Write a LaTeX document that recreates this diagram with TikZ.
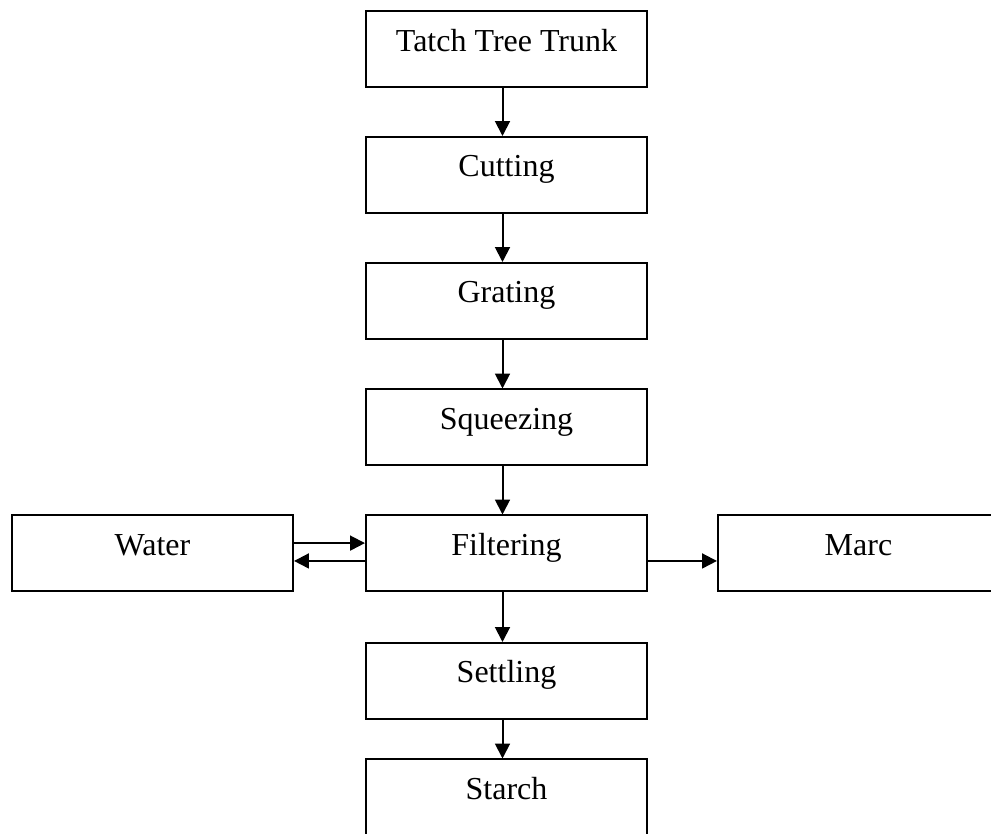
\documentclass[tikz,border=0pt]{standalone}
\usepackage{fontspec}
\setmainfont{Liberation Serif}
\usetikzlibrary{arrows.meta}

\tikzset{
  stage/.style={draw, line width=0.75pt, minimum width=105.4pt, minimum height=28.5pt,
    inner sep=0pt, text height=8.4pt, text depth=6.9pt, font=\fontsize{12}{14}\selectfont},
  flow/.style={-{Triangle[length=5.6pt,width=5.6pt]}, line width=0.75pt},
}

\begin{document}
\begin{tikzpicture}[x=0.375pt, y=-0.375pt]

\useasboundingbox (0,0) rectangle (991,834);
\clip (0,0) rectangle (991,834);

\def\xm{506.5}; % main column
\def\xl{152.5}; % water
\def\xr{858.5}; % marc

\node[stage] (trunk) at (\xm, 49.5) {Tatch Tree Trunk};
\node[stage] (cut) at (\xm, 175) {Cutting};
\node[stage] (grate) at (\xm, 301) {Grating};
\node[stage] (squeeze) at (\xm, 427.5) {Squeezing};
\node[stage] (filter) at (\xm, 553.5) {Filtering};
\node[stage] (settle) at (\xm, 681) {Settling};
\node[stage] (starch) at (\xm, 797.5) {Starch};

\node[stage] (water) at (\xl, 553.5) {Water};
\node[stage] (marc) at (\xr, 553.5) {Marc};

% main line
\draw[flow] ([xshift=-1.5pt]trunk.south) -- ([xshift=-1.5pt]cut.north);
\draw[flow] ([xshift=-1.5pt]cut.south) -- ([xshift=-1.5pt]grate.north);
\draw[flow] ([xshift=-1.5pt]grate.south) -- ([xshift=-1.5pt]squeeze.north);
\draw[flow] ([xshift=-1.5pt]squeeze.south) -- ([xshift=-1.5pt]filter.north);
\draw[flow] ([xshift=-1.5pt]filter.south) -- ([xshift=-1.5pt]settle.north);
\draw[flow] ([xshift=-1.5pt]settle.south) -- ([xshift=-1.5pt]starch.north);

% side streams
\draw[flow] ([yshift=3.9pt]water.east) -- ([yshift=3.9pt]filter.west);
\draw[flow] ([yshift=-2.8pt]filter.west) -- ([yshift=-2.8pt]water.east);
\draw[flow] ([yshift=-2.8pt]filter.east) -- ([yshift=-2.8pt]marc.west);

\end{tikzpicture}
\end{document}
